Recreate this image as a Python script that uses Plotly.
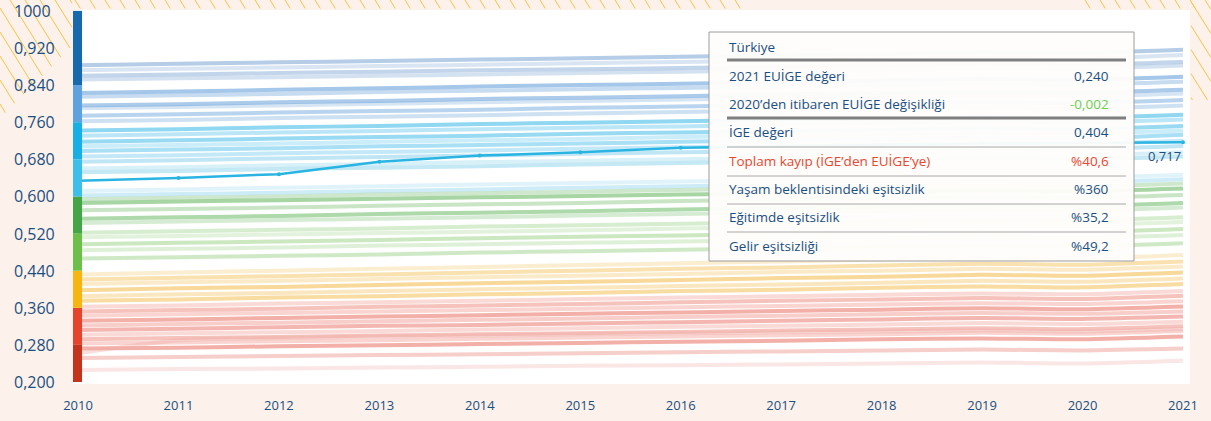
import plotly.graph_objects as go

# ---------------- data ----------------
years = list(range(2010, 2022))
year_labels = [str(y) for y in years]

y_ticks = [0.20, 0.28, 0.36, 0.44, 0.52, 0.60, 0.68, 0.76, 0.84, 0.92, 1.00]
y_tick_labels = ["0,200", "0,280", "0,360", "0,440", "0,520", "0,600",
                 "0,680", "0,760", "0,840", "0,920", "1000"]

highlight = [0.634, 0.640, 0.648, 0.675, 0.688, 0.695, 0.705, 0.708, 0.711, 0.714, 0.715, 0.717]
highlight_label = "0,717"

very_high_lines = [
    [0.883, 0.886, 0.889, 0.892, 0.895, 0.898, 0.901, 0.904, 0.907, 0.911, 0.909, 0.916],
    [0.872, 0.875, 0.878, 0.881, 0.884, 0.887, 0.890, 0.893, 0.896, 0.899, 0.897, 0.905],
    [0.860, 0.863, 0.866, 0.869, 0.872, 0.874, 0.877, 0.880, 0.883, 0.886, 0.884, 0.890],
    [0.852, 0.855, 0.857, 0.860, 0.863, 0.866, 0.869, 0.872, 0.875, 0.877, 0.875, 0.882],
]
blue_lines = [
    [0.823, 0.826, 0.830, 0.833, 0.837, 0.840, 0.843, 0.846, 0.850, 0.853, 0.851, 0.858],
    [0.815, 0.818, 0.821, 0.825, 0.828, 0.831, 0.834, 0.837, 0.840, 0.843, 0.841, 0.847],
    [0.796, 0.799, 0.803, 0.806, 0.810, 0.813, 0.816, 0.820, 0.823, 0.826, 0.824, 0.830],
    [0.790, 0.793, 0.796, 0.800, 0.803, 0.806, 0.809, 0.812, 0.815, 0.818, 0.816, 0.822],
    [0.774, 0.777, 0.781, 0.784, 0.787, 0.791, 0.794, 0.797, 0.800, 0.803, 0.801, 0.808],
    [0.762, 0.765, 0.769, 0.772, 0.775, 0.779, 0.782, 0.785, 0.788, 0.791, 0.789, 0.796],
]
cyan_lines = [
    [0.742, 0.745, 0.749, 0.752, 0.756, 0.759, 0.762, 0.765, 0.768, 0.771, 0.769, 0.776],
    [0.731, 0.734, 0.738, 0.741, 0.745, 0.748, 0.751, 0.755, 0.758, 0.761, 0.759, 0.766],
    [0.718, 0.721, 0.725, 0.728, 0.731, 0.735, 0.738, 0.741, 0.744, 0.747, 0.745, 0.752],
    [0.708, 0.711, 0.714, 0.718, 0.721, 0.724, 0.728, 0.731, 0.734, 0.737, 0.735, 0.742],
    [0.698, 0.701, 0.704, 0.708, 0.711, 0.714, 0.718, 0.721, 0.724, 0.727, 0.725, 0.733],
    [0.686, 0.689, 0.693, 0.696, 0.699, 0.703, 0.706, 0.709, 0.712, 0.715, 0.713, 0.720],
]
light_cyan_lines = [
    [0.675, 0.678, 0.682, 0.685, 0.688, 0.692, 0.695, 0.698, 0.701, 0.704, 0.702, 0.709],
    [0.660, 0.663, 0.667, 0.670, 0.674, 0.677, 0.680, 0.684, 0.687, 0.690, 0.688, 0.695],
    [0.652, 0.655, 0.659, 0.662, 0.665, 0.669, 0.672, 0.675, 0.678, 0.681, 0.679, 0.686],
    [0.612, 0.615, 0.619, 0.622, 0.626, 0.629, 0.632, 0.636, 0.639, 0.642, 0.640, 0.647],
    [0.602, 0.605, 0.608, 0.612, 0.615, 0.619, 0.622, 0.625, 0.628, 0.632, 0.630, 0.637],
]
green_lines = [
    [0.594, 0.597, 0.600, 0.604, 0.607, 0.610, 0.614, 0.617, 0.620, 0.623, 0.621, 0.628],
    [0.586, 0.589, 0.592, 0.595, 0.598, 0.601, 0.604, 0.607, 0.610, 0.613, 0.611, 0.617],
    [0.570, 0.573, 0.576, 0.580, 0.583, 0.586, 0.590, 0.593, 0.596, 0.599, 0.597, 0.603],
    [0.552, 0.555, 0.558, 0.562, 0.565, 0.568, 0.572, 0.575, 0.578, 0.581, 0.579, 0.586],
    [0.543, 0.546, 0.549, 0.552, 0.555, 0.559, 0.562, 0.565, 0.568, 0.571, 0.569, 0.576],
]
light_green_lines = [
    [0.522, 0.525, 0.528, 0.531, 0.535, 0.538, 0.541, 0.544, 0.547, 0.550, 0.548, 0.555],
    [0.512, 0.515, 0.518, 0.521, 0.524, 0.527, 0.531, 0.534, 0.537, 0.540, 0.538, 0.545],
    [0.497, 0.500, 0.503, 0.506, 0.510, 0.513, 0.516, 0.519, 0.522, 0.525, 0.523, 0.530],
    [0.484, 0.487, 0.490, 0.494, 0.497, 0.500, 0.503, 0.506, 0.509, 0.512, 0.510, 0.517],
    [0.466, 0.469, 0.472, 0.475, 0.479, 0.482, 0.485, 0.488, 0.491, 0.494, 0.492, 0.499],
]
yellow_lines = [
    [0.432, 0.436, 0.440, 0.444, 0.448, 0.452, 0.456, 0.460, 0.464, 0.468, 0.466, 0.474],
    [0.421, 0.425, 0.428, 0.432, 0.436, 0.440, 0.444, 0.447, 0.451, 0.455, 0.453, 0.460],
    [0.411, 0.415, 0.418, 0.422, 0.426, 0.429, 0.433, 0.437, 0.440, 0.444, 0.442, 0.449],
    [0.398, 0.402, 0.405, 0.409, 0.413, 0.416, 0.420, 0.424, 0.427, 0.431, 0.429, 0.436],
    [0.385, 0.389, 0.392, 0.396, 0.400, 0.403, 0.407, 0.410, 0.414, 0.418, 0.416, 0.423],
    [0.375, 0.378, 0.382, 0.385, 0.389, 0.392, 0.396, 0.399, 0.403, 0.406, 0.404, 0.411],
]
red_lines = [
    [0.362, 0.365, 0.369, 0.372, 0.375, 0.379, 0.382, 0.385, 0.388, 0.391, 0.389, 0.396],
    [0.352, 0.355, 0.358, 0.362, 0.365, 0.368, 0.372, 0.375, 0.378, 0.381, 0.379, 0.386],
    [0.343, 0.346, 0.349, 0.352, 0.355, 0.358, 0.361, 0.364, 0.367, 0.370, 0.368, 0.374],
    [0.332, 0.335, 0.338, 0.341, 0.344, 0.347, 0.350, 0.353, 0.356, 0.359, 0.357, 0.363],
    [0.322, 0.325, 0.328, 0.331, 0.334, 0.337, 0.340, 0.343, 0.346, 0.349, 0.347, 0.352],
    [0.312, 0.315, 0.318, 0.321, 0.323, 0.326, 0.329, 0.332, 0.335, 0.338, 0.336, 0.341],
    [0.302, 0.305, 0.307, 0.310, 0.313, 0.316, 0.319, 0.321, 0.324, 0.327, 0.325, 0.330],
    [0.292, 0.295, 0.297, 0.300, 0.303, 0.305, 0.308, 0.311, 0.313, 0.316, 0.314, 0.320],
    [0.283, 0.285, 0.288, 0.290, 0.293, 0.296, 0.298, 0.301, 0.303, 0.306, 0.304, 0.310],
    [0.272, 0.274, 0.277, 0.279, 0.282, 0.284, 0.287, 0.289, 0.292, 0.294, 0.292, 0.298],
]
pink_lines = [
    [0.262, 0.290, 0.295, 0.298, 0.300, 0.303, 0.305, 0.307, 0.309, 0.311, 0.309, 0.314],
    [0.252, 0.254, 0.256, 0.258, 0.260, 0.262, 0.264, 0.266, 0.268, 0.270, 0.268, 0.272],
    [0.226, 0.228, 0.229, 0.231, 0.233, 0.235, 0.236, 0.238, 0.240, 0.242, 0.240, 0.246],
]

band_edges = [0.20, 0.28, 0.36, 0.44, 0.52, 0.60, 0.68, 0.76, 0.84, 1.00]

table_title = "Türkiye"
table_labels = ["2021 EUİGE değeri", "2020’den itibaren EUİGE değişikliği", "İGE değeri",
                "Toplam kayıp (İGE’den EUİGE’ye)", "Yaşam beklentisindeki eşitsizlik",
                "Eğitimde eşitsizlik", "Gelir eşitsizliği"]
table_values = ["0,240", "-0,002", "0,404", "%40,6", "%360", "%35,2", "%49,2"]

# ---------------- styles ----------------
band_colors = ["#c6331c", "#e5432b", "#f7b512", "#6cc04a", "#43a545",
               "#3cbfea", "#16b0e6", "#5fa2e0", "#1768ad"]
group_styles = [
    (very_high_lines, "#86acd9"),
    (blue_lines, "#76aade"),
    (cyan_lines, "#56c2ec"),
    (light_cyan_lines, "#9fdaf0"),
    (green_lines, "#79c072"),
    (light_green_lines, "#b0dca1"),
    (yellow_lines, "#f5c563"),
    (red_lines, "#ee867c"),
    (pink_lines, "#f1aea8"),
]
opacity_cycle = [0.6, 0.3, 0.5, 0.35, 0.65, 0.4]
text_blue = "#1b4f82"
font_family = "Open Sans, sans-serif"

W, H = 1211, 421
L, R, T, B = 73, 1190, 10, 384


def px(x):
    return (x - L) / (R - L)


def py(y):
    return (B - y) / (B - T)


fig = go.Figure()

k = 0
for group, color in group_styles:
    for vals in group:
        fig.add_trace(go.Scatter(x=years, y=vals, mode="lines",
                                 line=dict(color=color, width=4, shape="spline", smoothing=0.6),
                                 opacity=opacity_cycle[k % len(opacity_cycle)],
                                 hoverinfo="skip", showlegend=False))
        k += 1

fig.add_trace(go.Scatter(x=years, y=highlight, mode="lines+markers",
                         line=dict(color="#2ab4e2", width=2.5),
                         marker=dict(size=4, color="#2ab4e2"),
                         showlegend=False))

shapes = []
# colour bar on the y axis
for i in range(len(band_edges) - 1):
    shapes.append(dict(type="rect", xref="x", yref="y", x0=2009.95, x1=2010.04,
                       y0=band_edges[i], y1=band_edges[i + 1], fillcolor=band_colors[i],
                       line=dict(width=0), layer="above"))

# decorative hatching
hatch = "#f6c445"
slope = 1.6
segs = []
x0 = -200
while x0 <= 75:
    sx, sy = (0, -x0 * slope) if x0 < 0 else (x0, 0)
    if sy < 118:
        ex = (118 + slope * x0) / (1 + slope)
        if ex > 72:
            ex = 72
        ey = slope * (ex - x0)
        if ex > sx:
            segs.append((sx, sy, ex, ey))
    x0 += 15
for start, stop in ((75, 745), (1085, 1190)):
    x0 = start
    while x0 <= stop:
        segs.append((x0, 0, x0 + 8.5 / slope, 8.5))
        x0 += 15
x0 = 1130
while x0 <= 1211:
    if x0 >= 1191:
        sx, sy = x0, 0
    else:
        sx, sy = 1191, slope * (1191 - x0)
    if sy < 100:
        ex = 1211
        ey = slope * (ex - x0)
        if ey > 100:
            ey = 100
            ex = x0 + 100 / slope
        segs.append((sx, sy, ex, ey))
    x0 += 15
for sx, sy, ex, ey in segs:
    shapes.append(dict(type="line", xref="paper", yref="paper", x0=px(sx), y0=py(sy),
                       x1=px(ex), y1=py(ey), line=dict(color=hatch, width=1), layer="above"))

# table box
shapes.append(dict(type="rect", xref="paper", yref="paper", x0=px(709), x1=px(1134),
                   y0=py(261), y1=py(32), fillcolor="rgba(255,253,251,0.95)",
                   line=dict(color="#9c9c9c", width=1), layer="above"))
for yy in (60, 118):
    shapes.append(dict(type="line", xref="paper", yref="paper", x0=px(727), x1=px(1126),
                       y0=py(yy), y1=py(yy), line=dict(color="#7f7f7f", width=3), layer="above"))
for yy in (147, 176, 204, 232):
    shapes.append(dict(type="line", xref="paper", yref="paper", x0=px(727), x1=px(1126),
                       y0=py(yy), y1=py(yy), line=dict(color="#a8a8a8", width=1), layer="above"))

annotations = []
# y tick labels (left aligned)
for v, t in zip(y_ticks, y_tick_labels):
    annotations.append(dict(xref="paper", yref="y", x=px(12), y=v, text=t, showarrow=False,
                            xanchor="left", yanchor="middle",
                            font=dict(family=font_family, size=16, color=text_blue)))

row_y = [76, 104, 132, 161, 189, 217, 246]
label_colors = [text_blue, text_blue, text_blue, "#e8472f", text_blue, text_blue, text_blue]
value_colors = [text_blue, "#6bd04c", text_blue, "#e8472f", text_blue, text_blue, text_blue]
annotations.append(dict(xref="paper", yref="paper", x=px(727), y=py(47), text=table_title,
                        showarrow=False, xanchor="left", yanchor="middle",
                        font=dict(family=font_family, size=13.5, color=text_blue)))
for yy, lab, val, lc, vc in zip(row_y, table_labels, table_values, label_colors, value_colors):
    annotations.append(dict(xref="paper", yref="paper", x=px(727), y=py(yy), text=lab,
                            showarrow=False, xanchor="left", yanchor="middle",
                            font=dict(family=font_family, size=13.5, color=lc)))
    annotations.append(dict(xref="paper", yref="paper", x=px(1111), y=py(yy), text=val,
                            showarrow=False, xanchor="right", yanchor="middle",
                            font=dict(family=font_family, size=13.5, color=vc)))

annotations.append(dict(xref="x", yref="y", x=years[-1], y=highlight[-1], text=highlight_label,
                        showarrow=False, xanchor="right", yanchor="top", xshift=0, yshift=-3,
                        font=dict(family=font_family, size=13, color=text_blue)))

fig.update_layout(
    width=W, height=H, autosize=False,
    margin=dict(l=L, r=W - R, t=T, b=H - B, pad=0),
    paper_bgcolor="#fcf2eb", plot_bgcolor="#ffffff",
    shapes=shapes, annotations=annotations,
    xaxis=dict(range=[2009.95, 2021.07], tickvals=years, ticktext=year_labels,
               showgrid=False, zeroline=False, showline=False, ticks="",
               automargin=False, ticklabelstandoff=12,
               tickfont=dict(family=font_family, size=13, color=text_blue)),
    yaxis=dict(range=[0.1957, 1.0019], tickvals=y_ticks, showticklabels=False,
               automargin=False,
               showgrid=False, zeroline=False, showline=False, ticks=""),
    showlegend=False,
)

fig.write_html("out.html", config={"displayModeBar": False},
               post_script="document.body.style.margin='0px';document.body.style.overflow='hidden';")
